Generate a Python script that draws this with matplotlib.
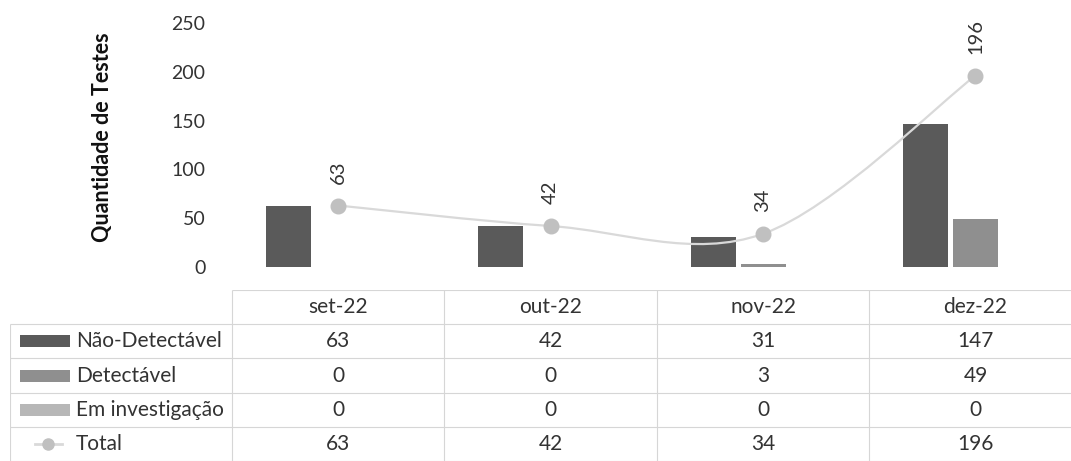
import numpy as np
import matplotlib
matplotlib.use('Agg')
import matplotlib.pyplot as plt
from matplotlib.path import Path
from matplotlib.patches import PathPatch, Rectangle

# ---- data ----
months = ['set-22', 'out-22', 'nov-22', 'dez-22']
nao_detectavel = [63, 42, 31, 147]
detectavel = [0, 0, 3, 49]
em_investigacao = [0, 0, 0, 0]
total = [63, 42, 34, 196]
series_names = ['Não-Detectável', 'Detectável', 'Em investigação', 'Total']
y_ticks = [0, 50, 100, 150, 200, 250]
y_label = 'Quantidade de Testes'

# ---- style ----
plt.rcParams['font.family'] = ['Lato', 'DejaVu Sans']
bar_colors = ['#5a5a5a', '#8f8f8f', '#b7b7b7']
line_color = '#d9d9d9'
marker_color = '#c0c0c0'
text_color = '#333333'
grid_color = '#d6d6d6'

W, H = 1071, 461
fig = plt.figure(figsize=(W / 100, H / 100), dpi=100)

ax_left, ax_right, ax_top, ax_bot = 232, 1071, 23, 267
ax = fig.add_axes([ax_left / W, 1 - ax_bot / H, (ax_right - ax_left) / W, (ax_bot - ax_top) / H])
x = np.arange(len(months))
xmin, xmax = -0.5, 3.45
ax.set_xlim(xmin, xmax)
ax.set_ylim(0, 250)
upp = (xmax - xmin) / (ax_right - ax_left)  # data units per pixel
bw = 45 * upp
off = 50 * upp

for i, (vals, c) in enumerate(zip([nao_detectavel, detectavel, em_investigacao], bar_colors)):
    ax.bar(x + (i - 1) * off, vals, width=bw, color=c, zorder=2)

# smooth total line (Catmull-Rom as cubic Bezier, like Excel's smoothed line)
pts = np.column_stack([x, total]).astype(float)
verts = [tuple(pts[0])]
codes = [Path.MOVETO]
n = len(pts)
for i in range(n - 1):
    p0 = pts[max(i - 1, 0)]
    p1 = pts[i]
    p2 = pts[i + 1]
    p3 = pts[min(i + 2, n - 1)]
    c1 = p1 + (p2 - p0) / 6
    c2 = p2 - (p3 - p1) / 6
    verts += [tuple(c1), tuple(c2), tuple(p2)]
    codes += [Path.CURVE4] * 3
ax.add_patch(PathPatch(Path(verts, codes), fill=False, edgecolor=line_color, lw=1.6, zorder=3))
ax.plot(x, total, 'o', ms=10.5, color=marker_color, ls='none', zorder=4)
for xi, v in zip(x, total):
    ax.annotate(str(v), (xi, v), xytext=(0, 22), textcoords='offset pixels',
                rotation=90, ha='center', va='bottom', fontsize=14.5, color=text_color)

for s in ax.spines.values():
    s.set_visible(False)
ax.set_xticks([])
ax.set_yticks(y_ticks)
ax.tick_params(axis='y', length=0, pad=19, labelsize=14, labelcolor=text_color)
ax.set_ylabel(y_label, fontsize=15.5, fontweight='bold', color='#111111')
ax.yaxis.set_label_coords((113 - ax_left) / (ax_right - ax_left), 0.533)

# ---- data table ----
t_left_px, t_top_px = 10, 290
tax = fig.add_axes([t_left_px / W, 0, (W - t_left_px) / W, (H - t_top_px) / H])
tleft = xmin - (ax_left - t_left_px) * upp
tax.set_xlim(tleft, xmax)
nrows = 5
tax.set_ylim(nrows, 0)
tax.axis('off')
row_px = (H - t_top_px) / nrows

tax.hlines(0, xmin, xmax, color=grid_color, lw=0.8)
tax.hlines(np.arange(1, nrows + 1), tleft, xmax, color=grid_color, lw=0.8)
tax.vlines(xmin + np.arange(len(months)), 0, nrows, color=grid_color, lw=0.8)
tax.vlines(tleft, 1, nrows, color=grid_color, lw=0.8)

fs = 15
for xi, m in zip(x, months):
    tax.text(xi, 0.5, m, ha='center', va='center', fontsize=fs, color=text_color)

table_rows = [nao_detectavel, detectavel, em_investigacao, total]
for r, (name, vals) in enumerate(zip(series_names, table_rows), start=1):
    yc = r + 0.5
    for xi, v in zip(x, vals):
        tax.text(xi, yc, str(v), ha='center', va='center', fontsize=fs, color=text_color)
    tax.text(tleft + 66 * upp, yc, name, ha='left', va='center', fontsize=fs, color=text_color)
    if r <= 3:
        h = 12 / row_px
        tax.add_patch(Rectangle((tleft + 10 * upp, yc - h / 2), 50 * upp, h,
                                color=bar_colors[r - 1], lw=0))
    else:
        tax.plot([tleft + 25 * upp, tleft + 52 * upp], [yc, yc], color=line_color, lw=2)
        tax.plot([tleft + 38 * upp], [yc], 'o', ms=8, color=marker_color)

fig.savefig('out.png', dpi=100)
